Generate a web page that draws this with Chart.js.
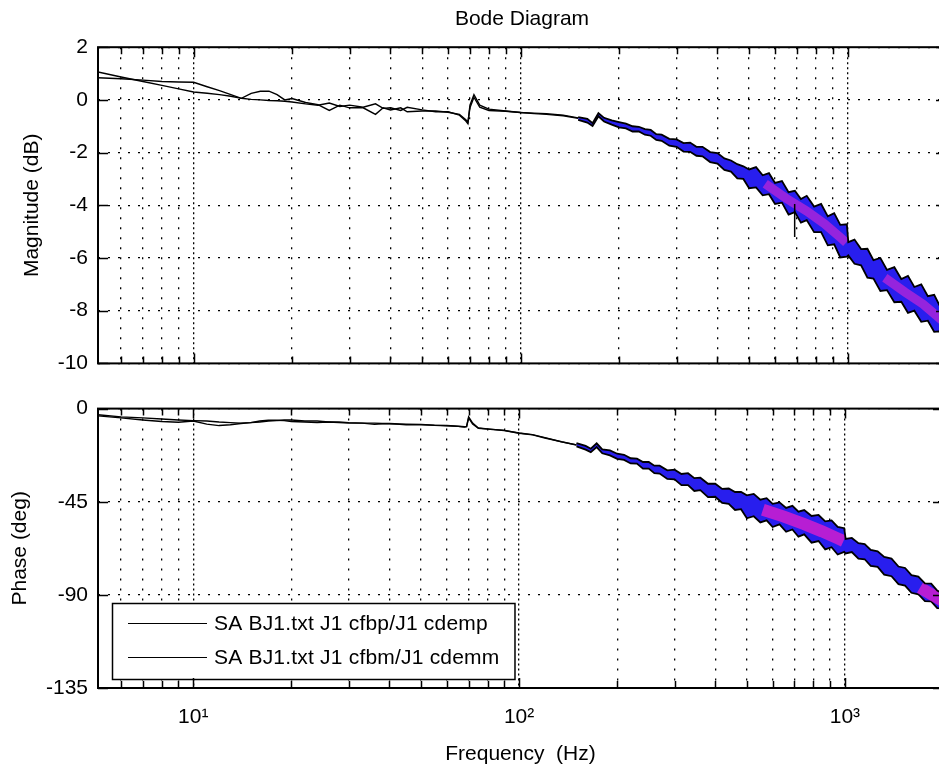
<!DOCTYPE html>
<html>
<head>
<meta charset="utf-8">
<title>Bode Diagram</title>
<script src="https://cdn.jsdelivr.net/npm/chart.js@4.4.0/dist/chart.umd.min.js"></script>
<style>
  html, body { margin: 0; padding: 0; background: #fff; overflow: hidden; }
  #wrap { position: relative; width: 939px; height: 771px; overflow: hidden; }
  canvas { position: absolute; left: 0; }
  #mag { top: 0; }
  #phase { top: 386px; }
</style>
</head>
<body>
<div id="wrap">
  <canvas id="mag" width="960" height="386"></canvas>
  <canvas id="phase" width="960" height="385"></canvas>
</div>
<script>
// measured response, two channels (Hz / dB / deg)
const labelP = 'SA BJ1.txt J1 cfbp/J1 cdemp';
const labelM = 'SA BJ1.txt J1 cfbm/J1 cdemm';

// low band: both channels still clean
const freqLo = [5.1, 6, 7, 8, 9, 10, 11, 12, 13, 14, 15, 16, 17, 18, 19, 20, 22, 24, 26, 28, 30, 33, 36, 38, 40,
  43, 45, 50, 55, 60, 65, 68, 69, 70, 72, 75, 80, 90, 100, 110, 120, 135, 150];
const magP = [1.06, 0.87, 0.70, 0.55, 0.42, 0.30, 0.25, 0.20, 0.14, 0.06, 0.02, 0.00, -0.02, -0.03, -0.05, -0.08,
  -0.15, -0.20, -0.12, -0.25, -0.20, -0.28, -0.15, -0.32, -0.30, -0.40, -0.28, -0.38, -0.45, -0.45, -0.58, -0.80,
  -0.90, -0.20, 0.20, -0.20, -0.35, -0.42, -0.48, -0.50, -0.52, -0.58, -0.68];
const magM = [0.84, 0.80, 0.75, 0.70, 0.68, 0.67, 0.50, 0.35, 0.20, 0.06, 0.25, 0.33, 0.33, 0.20, 0.00, 0.05,
  -0.10, -0.18, -0.40, -0.20, -0.30, -0.30, -0.55, -0.30, -0.38, -0.30, -0.45, -0.42, -0.42, -0.47, -0.55, -0.75,
  -0.85, -0.30, 0.10, -0.28, -0.40, -0.43, -0.48, -0.52, -0.55, -0.60, -0.70];
const phP = [-3.0, -4.0, -4.5, -5.0, -5.5, -5.8, -6.0, -6.5, -6.8, -7.0, -6.8, -6.5, -6.0, -5.8, -5.5, -5.5, -6.0,
  -6.0, -6.5, -6.5, -6.8, -7.0, -7.0, -7.2, -7.2, -7.4, -7.5, -7.6, -8.0, -8.2, -8.5, -8.8, -8.6, -4.0, -7.0, -9.4,
  -9.8, -10.5, -11.8, -12.6, -14.0, -16.0, -17.5];
const phM = [-3.5, -4.5, -5.5, -6.2, -6.6, -6.0, -7.5, -8.2, -7.8, -7.2, -6.8, -6.0, -5.6, -5.6, -5.8, -6.2, -6.5,
  -6.8, -6.5, -6.8, -7.0, -7.0, -7.6, -7.4, -7.3, -7.6, -7.8, -7.8, -8.1, -8.3, -8.6, -8.9, -8.7, -4.5, -7.5, -9.5,
  -9.9, -10.6, -11.9, -12.7, -14.2, -16.1, -17.6];

// high band: noisy spread between the upper and lower envelope
const freqHi = [150, 160, 166, 173, 180, 190, 200, 210, 220, 230, 240, 250, 260, 270, 285, 300, 315, 330, 345, 360,
  380, 400, 420, 440, 460, 480, 500, 525, 550, 575, 600, 630, 660, 690, 720, 750, 790, 830, 870, 910,
  950, 995, 1005, 1050, 1100, 1150, 1200, 1260, 1320, 1390, 1460, 1530, 1600, 1680, 1760, 1840, 1920, 2000];
const magUp = [-0.65, -0.72, -0.88, -0.50, -0.68, -0.78, -0.84, -0.90, -1.00, -1.02,
  -1.11, -1.14, -1.30, -1.32, -1.48, -1.50, -1.64, -1.62, -1.78, -1.78,
  -1.98, -2.02, -2.22, -2.30, -2.44, -2.52, -2.64, -2.55, -2.86, -2.78,
  -3.15, -3.08, -3.50, -3.45, -3.76, -3.64, -4.05, -3.95, -4.42, -4.30,
  -4.74, -4.72, -5.40, -5.30, -5.66, -5.65, -6.08, -6.00, -6.45, -6.35,
  -6.80, -6.68, -7.10, -7.00, -7.45, -7.40, -7.85, -7.80];
const magLow = [-0.76, -0.86, -0.99, -0.62, -0.82, -0.94, -1.04, -1.08, -1.20, -1.20,
  -1.32, -1.36, -1.52, -1.55, -1.74, -1.78, -1.96, -1.97, -2.12, -2.14,
  -2.36, -2.42, -2.66, -2.72, -2.98, -3.00, -3.35, -3.32, -3.62, -3.58,
  -3.95, -3.90, -4.35, -4.26, -4.66, -4.56, -5.02, -5.02, -5.52, -5.48,
  -5.98, -5.95, -5.90, -6.22, -6.28, -6.75, -6.78, -7.25, -7.22, -7.68,
  -7.66, -8.08, -8.00, -8.42, -8.38, -8.80, -8.78, -9.20];
const phUp = [-16.7, -18.0, -19.4, -16.8, -19.7, -20.2, -21.8, -22.3, -24.0, -24.2,
  -25.8, -25.8, -27.6, -27.6, -29.8, -29.5, -31.6, -31.2, -33.6, -33.4,
  -36.3, -36.3, -38.8, -38.6, -40.3, -40.3, -41.9, -41.2, -44.0, -43.3,
  -46.0, -45.3, -48.0, -47.0, -49.8, -49.0, -51.9, -51.4, -54.5, -54.0,
  -57.2, -57.8, -63.0, -62.5, -65.0, -65.5, -68.3, -69.0, -71.7, -72.5,
  -76.3, -77.0, -80.5, -81.2, -84.5, -84.6, -87.9, -89.5];
const phLow = [-18.3, -19.8, -21.0, -18.6, -21.6, -22.6, -24.3, -24.8, -26.5, -26.6,
  -29.0, -29.0, -31.2, -31.4, -34.0, -34.2, -37.0, -37.0, -39.8, -39.4,
  -42.8, -42.6, -45.6, -46.0, -49.0, -48.6, -53.0, -52.0, -55.0, -54.0,
  -57.2, -55.9, -59.5, -58.4, -61.9, -60.8, -64.8, -64.0, -68.0, -67.0,
  -70.5, -69.2, -70.0, -69.3, -72.5, -72.8, -76.0, -76.5, -80.2, -81.0,
  -84.8, -85.5, -89.0, -89.7, -93.0, -93.1, -96.4, -96.5];

// densest part of the spread
const coreFreq = [560, 650, 750, 850, 950, 990, 1100, 1300, 1500, 1700, 1900, 2000];
const coreMag = [-3.18, -3.74, -4.22, -4.70, -5.22, -5.42, null, -6.75, -7.30, -7.75, -8.26, -8.50];
const corePh = [-48.9, -52.2, -55.8, -59.3, -62.7, -64.0, null, null, null, -86.5, -91.0, -93.0];

// single outlier sample
const spikeFreq = [689, 689];
const spikeMag = [-3.95, -5.2];

// axes
const xLimits = [5.1, 2000];
const xGrid = [6, 7, 8, 9, 10, 20, 30, 40, 50, 60, 70, 80, 90, 100, 200, 300, 400, 500, 600, 700, 800, 900, 1000, 2000];
const decades = [10, 100, 1000];
const decadeLabels = ['10\u00b9', '10\u00b2', '10\u00b3'];
const magTicks = [2, 0, -2, -4, -6, -8, -10];
const phaseTicks = [0, -45, -90, -135];

const FONT = "'Liberation Sans', Arial, sans-serif";
Chart.defaults.font.family = FONT;
Chart.defaults.font.size = 21;
Chart.defaults.color = '#000';
Chart.defaults.animation = false;
Chart.defaults.plugins.legend.display = false;
Chart.defaults.plugins.tooltip.enabled = false;
Chart.defaults.elements.point.radius = 0;
Chart.defaults.elements.line.tension = 0;

const pts = (xs, ys) => xs.map((x, i) => ({ x: x, y: ys[i] }));

const BLUE = 'rgb(40,30,238)';

// box, inward tick marks
const frame = {
  id: 'frame',
  afterDraw(chart) {
    const { ctx, chartArea: a, scales: { x, y } } = chart;
    ctx.save();
    ctx.strokeStyle = '#000';
    ctx.lineWidth = 1.5;
    ctx.beginPath();
    x.ticks.forEach(t => {
      const px = Math.round(x.getPixelForValue(t.value)) + 0.5;
      const len = decades.includes(t.value) ? 10 : 7;
      ctx.moveTo(px, a.bottom); ctx.lineTo(px, a.bottom - len);
      ctx.moveTo(px, a.top); ctx.lineTo(px, a.top + len);
    });
    y.ticks.forEach(t => {
      const py = Math.round(y.getPixelForValue(t.value)) + 0.5;
      ctx.moveTo(a.left, py); ctx.lineTo(a.left + 10, py);
      ctx.moveTo(a.right, py); ctx.lineTo(a.right - 10, py);
    });
    ctx.stroke();
    ctx.lineWidth = 2;
    ctx.strokeRect(a.left, a.top, a.right - a.left, a.bottom - a.top);
    ctx.restore();
  }
};

// legend box in the lower left corner of the plot
const boxLegend = {
  id: 'boxLegend',
  afterDatasetsDraw(chart) {
    const { ctx, chartArea: a } = chart;
    const items = chart.data.datasets.filter(d => d.label);
    ctx.save();
    ctx.font = '21px ' + FONT;
    ctx.letterSpacing = '0.2px';
    const textW = Math.max(...items.map(d => ctx.measureText(d.label).width));
    const rowH = 34;
    const left = a.left + 14, bottom = a.bottom - 9;
    const w = 16 + 79 + 7 + textW + 15;
    const h = 20 + rowH * (items.length - 1) + 22;
    const top = bottom - h;
    ctx.fillStyle = '#fff';
    ctx.fillRect(left, top, w, h);
    ctx.strokeStyle = '#000';
    ctx.lineWidth = 1.5;
    ctx.strokeRect(left + 0.5, top + 0.5, w, h);
    items.forEach((d, i) => {
      const y = top + 20 + i * rowH;
      ctx.strokeStyle = d.borderColor;
      ctx.lineWidth = 1.2;
      ctx.beginPath();
      ctx.moveTo(left + 16, y + 0.5);
      ctx.lineTo(left + 95, y + 0.5);
      ctx.stroke();
      ctx.fillStyle = '#000';
      ctx.textBaseline = 'middle';
      ctx.textAlign = 'left';
      ctx.fillText(d.label, left + 102, y + 1);
    });
    ctx.restore();
  }
};

function xScale(bottomPanel) {
  return {
    type: 'logarithmic',
    min: xLimits[0],
    max: xLimits[1],
    afterBuildTicks: s => { s.ticks = xGrid.map(v => ({ value: v })); },
    afterFit: s => { s.height = bottomPanel ? 83 : 11; },
    grid: { color: '#000', lineWidth: 1.3, drawTicks: false },
    border: { display: false, dash: c => (c.tick && decades.includes(c.tick.value)) ? [2, 3] : [2, 8] },
    ticks: {
      display: bottomPanel,
      autoSkip: false,
      maxRotation: 0,
      padding: 17,
      callback: v => { const i = decades.indexOf(v); return i < 0 ? '' : decadeLabels[i]; }
    },
    title: { display: bottomPanel, text: 'Frequency  (Hz)', padding: { top: 0, bottom: 4 } }
  };
}

function yScale(ticks, label, titlePad) {
  return {
    min: Math.min(...ticks),
    max: Math.max(...ticks),
    afterBuildTicks: s => { s.ticks = ticks.map(v => ({ value: v })); },
    afterFit: s => { s.width = 98; },
    grid: { color: '#000', lineWidth: 1.3, drawTicks: false },
    border: { display: false, dash: [2, 8] },
    ticks: { padding: 10 },
    title: { display: true, text: label, padding: { top: titlePad, bottom: 0 } }
  };
}

const trace = (label, data) => ({ label: label, data: data, borderColor: '#000', borderWidth: 1.4 });
const edge = (data, fill) => ({ data: data, borderColor: '#000', borderWidth: 1.8, fill: fill, backgroundColor: BLUE });

new Chart(document.getElementById('mag'), {
  type: 'line',
  data: {
    datasets: [
      trace(labelP, pts(freqLo, magP)),
      trace(labelM, pts(freqLo, magM)),
      { data: pts(spikeFreq, spikeMag), borderColor: '#000', borderWidth: 1.5 },
      edge(pts(freqHi, magUp), false),
      { data: pts(coreFreq, coreMag), borderColor: 'rgba(222,40,210,0.6)', borderWidth: 9 },
      edge(pts(freqHi, magLow), 3)
    ]
  },
  options: {
    responsive: false,
    layout: { padding: { left: 0, right: 14, top: 0, bottom: 0 } },
    plugins: {
      title: {
        display: true,
        text: 'Bode Diagram',
        fullSize: false,
        font: { size: 21, weight: 'normal' },
        padding: { top: 7, bottom: 15 }
      }
    },
    scales: {
      x: xScale(false),
      y: yScale(magTicks, 'Magnitude (dB)', 20)
    }
  },
  plugins: [frame]
});

new Chart(document.getElementById('phase'), {
  type: 'line',
  data: {
    datasets: [
      trace(labelP, pts(freqLo, phP)),
      trace(labelM, pts(freqLo, phM)),
      edge(pts(freqHi, phUp), false),
      { data: pts(coreFreq, corePh), borderColor: 'rgba(215,30,205,0.82)', borderWidth: 12 },
      edge(pts(freqHi, phLow), 2)
    ]
  },
  options: {
    responsive: false,
    layout: { padding: { left: 0, right: 14, top: 14, bottom: 0 } },
    scales: {
      x: xScale(true),
      y: yScale(phaseTicks, 'Phase (deg)', 8)
    }
  },
  plugins: [boxLegend, frame]
});
</script>
</body>
</html>
